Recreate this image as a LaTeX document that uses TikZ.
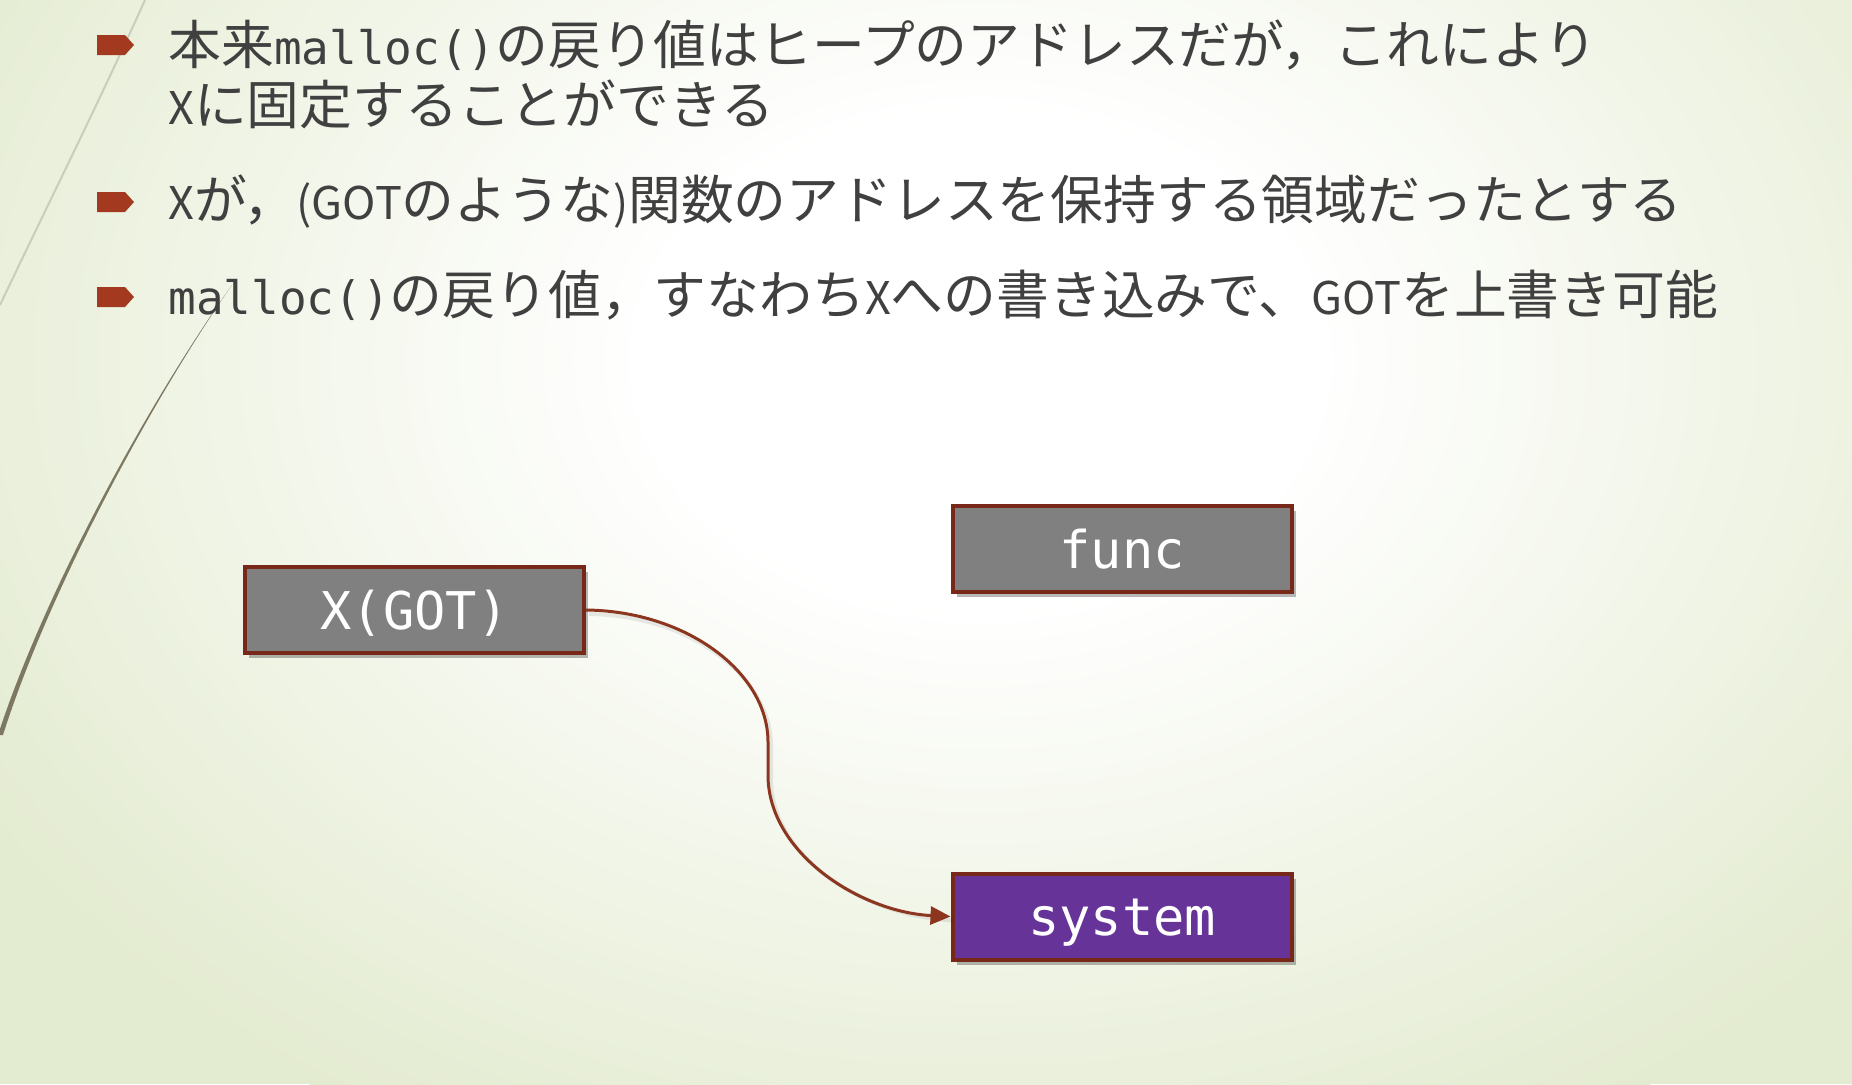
\documentclass[tikz,border=0pt]{standalone}
\usepackage{fontspec}
\usetikzlibrary{arrows.meta,shadows}
\newfontfamily\jpfont{Noto Sans CJK JP}
\newfontfamily\jlfont{Noto Sans CJK JP}
\newfontfamily\monofont{DejaVu Sans Mono}
\newcommand\jtext[1]{{\jpfont\fontsize{26.4pt}{28pt}\selectfont #1}}
\newcommand\ltext[1]{{\jlfont\fontsize{22.5pt}{28pt}\selectfont #1}}
\newcommand\mtext[1]{{\monofont\fontsize{23pt}{28pt}\selectfont #1}}
\definecolor{bgG}{HTML}{E3EBD0}
\definecolor{txtc}{HTML}{404040}
\definecolor{bulletc}{HTML}{A33A20}
\definecolor{boxb}{HTML}{782819}
\definecolor{boxg}{HTML}{808080}
\definecolor{sysp}{HTML}{663399}
\definecolor{arrowc}{HTML}{8C3620}
\definecolor{faintc}{HTML}{C9CDBC}
\definecolor{darkc}{HTML}{7D7862}
\pgfdeclareradialshading{bgshade}{\pgfpoint{0bp}{0bp}}{color(0bp)=(white); color(7bp)=(white); color(25bp)=(bgG); color(50bp)=(bgG)}
\tikzset{
  txt/.style={anchor=base west, inner sep=0pt, text=txtc},
  box/.style={draw=boxb, line width=2pt, minimum width=169.5pt, minimum height=43pt,
    inner sep=0pt, text=white, text height=19pt, text depth=0pt,
    font=\monofont\fontsize{26pt}{26pt}\selectfont,
    drop shadow={shadow xshift=2pt, shadow yshift=-2.5pt, opacity=0.28, fill=black}},
  bulletshape/.style={fill=bulletc},
  conn/.style={draw=arrowc, line width=1.5pt, -{Triangle[length=10pt,width=9pt]}}
}
\begin{document}
\begin{tikzpicture}[x=0.5pt,y=-0.5pt]
\useasboundingbox (0,0) rectangle (1852,1084);
\fill[bgG] (0,0) rectangle (1852,1084);
\begin{scope}
\clip (0,0) rectangle (1852,1084);
\shade[shading=bgshade] (980,360) ellipse (1180 and 880);
% decorative wisps
\draw[faintc, line width=1pt] (145,0) .. controls (100,100) and (50,200) .. (0,305);
\fill[darkc] (232,285) .. controls (150,400) and (45,590) .. (-2,735)
  -- (3,735) .. controls (49,590) and (152,400) .. (232,285) -- cycle;
\end{scope}

% bullets
\fill[bulletshape] (97,35) -- (125,35) -- (134,45) -- (125,55) -- (97,55) -- cycle;
\fill[bulletshape] (97,192) -- (125,192) -- (134,202) -- (125,212) -- (97,212) -- cycle;
\fill[bulletshape] (97,287) -- (125,287) -- (134,297) -- (125,307) -- (97,307) -- cycle;

% texts
\node[txt] (t1) at (168,64) {\jtext{本来}\mtext{malloc()}\jtext{の戻り値はヒープのアドレスだが，これにより}};
\node[txt] (t1b) at (168,124) {\ltext{X}\jtext{に固定することができる}};
\node[txt] (t2) at (168,219) {\ltext{X}\jtext{が，}\ltext{(GOT}\jtext{のような}\ltext{)}\jtext{関数のアドレスを保持する領域だったとする}};
\node[txt] (t3) at (168,314) {\mtext{malloc()}\jtext{の戻り値，すなわち}\ltext{X}\jtext{への書き込みで、}\ltext{GOT}\jtext{を上書き可能}};

% boxes
\node[box, fill=boxg] (xg) at (414.5,610) {X(GOT)};
\node[box, fill=boxg] (fn) at (1122,549) {func};
\node[box, fill=sysp] (sy) at (1122,916.5) {system};

% connector
\coordinate (m1) at (768,742);
\coordinate (m2) at (768,775);
\draw[black, opacity=0.08, line width=2pt, transform canvas={xshift=1.5pt,yshift=-2pt}]
  (xg.east) .. controls (686,611) and (768,672) .. (m1) -- (m2) .. controls (768,853) and (860,912) .. (sy.west);
\draw[conn] (xg.east) .. controls (686,611) and (768,672) .. (m1) -- (m2) .. controls (768,853) and (860,912) .. (sy.west);
\end{tikzpicture}
\end{document}
